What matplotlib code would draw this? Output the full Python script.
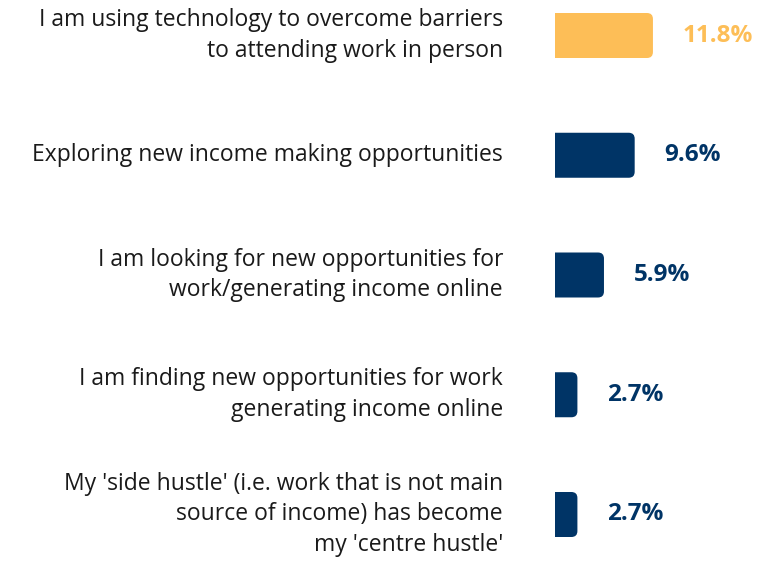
import matplotlib
matplotlib.use("Agg")
import matplotlib.pyplot as plt
from matplotlib.patches import FancyBboxPatch
from matplotlib.transforms import blended_transform_factory

categories = [
    "I am using technology to overcome barriers\nto attending work in person",
    "Exploring new income making opportunities",
    "I am looking for new opportunities for\nwork/generating income online",
    "I am finding new opportunities for work\ngenerating income online",
    "My 'side hustle' (i.e. work that is not main\nsource of income) has become\nmy 'centre hustle'",
]
values = [11.8, 9.6, 5.9, 2.7, 2.7]
value_labels = ["11.8%", "9.6%", "5.9%", "2.7%", "2.7%"]
bar_colors = ["#FDBE57", "#003466", "#003466", "#003466", "#003466"]

W, H = 769, 565
fig = plt.figure(figsize=(W / 100, H / 100), dpi=100)
left_px = 555
px_per_unit = 8.3
row_px = 119.75
first_center = 35.5
ax = fig.add_axes([left_px / W, 0, 1 - left_px / W, 1])
ax.set_xlim(0, (W - left_px) / px_per_unit)
ax.set_ylim((H - first_center) / row_px, -first_center / row_px)
ax.axis("off")

bar_h = 45 / row_px
r = 6 / px_per_unit
aspect = px_per_unit / row_px
for i, (v, c) in enumerate(zip(values, bar_colors)):
    p = FancyBboxPatch((-2, i - bar_h / 2), v + 2, bar_h,
                       boxstyle=f"round,pad=0,rounding_size={r}",
                       mutation_aspect=aspect, facecolor=c, edgecolor="none")
    ax.add_patch(p)
    ax.annotate(value_labels[i], xy=(v, i), xytext=(30 * 0.72, 0),
                textcoords="offset points", va="center", ha="left",
                fontsize=17.5, fontweight="bold", color=c, family="Open Sans",
                annotation_clip=False)

tr = blended_transform_factory(fig.transFigure, ax.transData)
for i, cat in enumerate(categories):
    fig.text(503 / W, i, cat, transform=tr, ha="right", va="center",
             multialignment="right", fontsize=16.5, color="#1a1a1a",
             family="Open Sans", linespacing=1.38)

fig.savefig("out.png", dpi=100)
